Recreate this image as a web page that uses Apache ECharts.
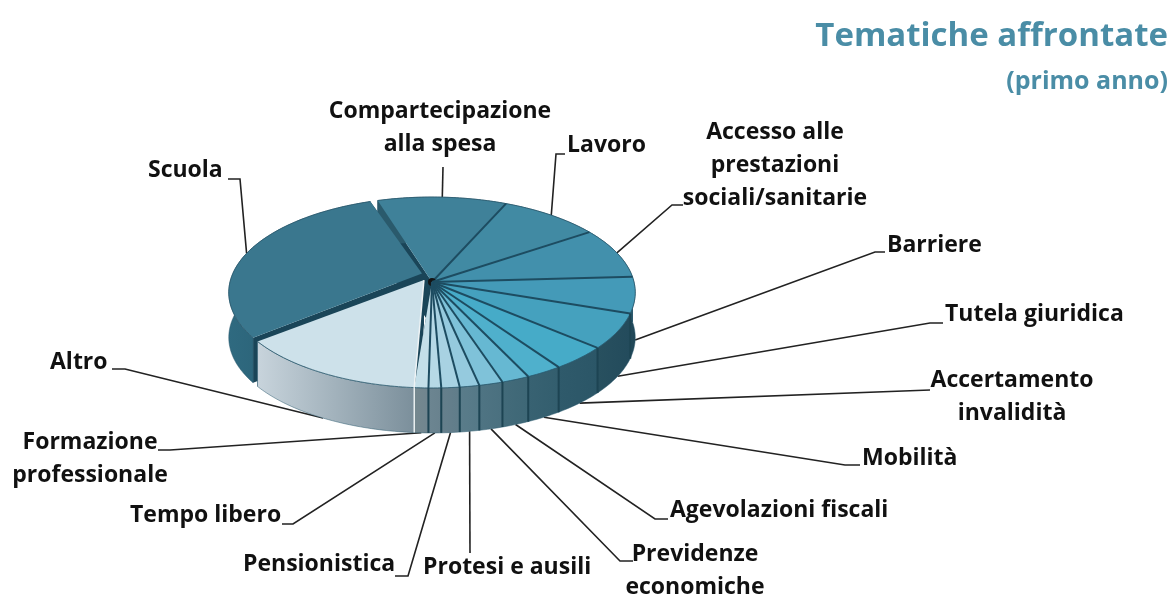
<!DOCTYPE html>
<html lang="it">
<head>
  <meta charset="UTF-8">
  <title>Tematiche affrontate</title>
  <style>
    html, body { margin: 0; padding: 0; background: #fff; }
    #chart { width: 1174px; height: 595px; }
  </style>
  <script src="https://cdn.jsdelivr.net/npm/echarts@6/dist/echarts.min.js"></script>
</head>
<body>
<div id="chart"></div>
<script>
  // slices, clockwise from the gap behind "Scuola"
  const categories = ["Compartecipazione\nalla spesa", "Lavoro", "Accesso alle\nprestazioni\nsociali/sanitarie", "Barriere",
    "Tutela giuridica", "Accertamento\ninvalidità", "Mobilità", "Agevolazioni fiscali", "Previdenze\neconomiche",
    "Protesi e ausili", "Pensionistica", "Tempo libero", "Formazione\nprofessionale", "Altro", "Scuola"];
  const shares = [11.4, 8.9, 8.6, 6.1, 6.0, 4.1, 2.6, 2.0, 1.7, 1.4, 1.3, 0.9, 1.0, 13.7, 30.2];

  // styles, same order as categories
  const topColors = ["#3f8199", "#418aa3", "#4290ac", "#449ab8", "#45a1be", "#46abc8", "#4fb0cc", "#66b8d2", "#7fc2d9",
    "#95cade", "#a8d2e2", "#b6d9e6", "#c4dfe9", "#cde1ea", "#3a778e"];
  const wallLeft = ["#2a5a6c", "#2a5a6c", "#2a5a6c", "#234b5c", "#28505f", "#2f5a6b", "#386272", "#436b7a", "#4f7483",
    "#5a7c8a", "#667f8c", "#6c8591", "#75888f", "#c8d4dc", "#2f6a80"];
  const wallRight = ["#2a5a6c", "#2a5a6c", "#2a5a6c", "#1f4555", "#234b5c", "#2b5667", "#335e6e", "#3e6776", "#4a707f",
    "#557987", "#607d8a", "#69828e", "#70858f", "#7b8f9b", "#235265"];

  // label placement: x, y, align
  const labelBoxes = [[440, 128, "center"], [567, 145, "left"], [775, 165, "center"], [887, 245, "left"],
    [945, 314, "left"], [1012, 397, "center"], [862, 458, "left"], [670, 510, "left"], [695, 571, "center"],
    [423, 567, "left"], [243, 564, "left"], [130, 515, "left"], [90, 459, "center"], [50, 362, "left"], [148, 170, "left"]];
  // leader line: text end, elbow
  const leaderEnds = [[443, 167, 443, 167], [565, 154, 556, 154], [683, 205, 672, 205], [885, 252, 875, 252],
    [943, 323, 930, 323], [930, 390, 930, 390], [860, 465, 845, 465], [668, 519, 655, 519], [633, 561, 620, 561],
    [470, 553, 470, 553], [395, 576, 408, 576], [282, 524, 293, 524], [158, 450, 170, 450], [112, 369, 125, 369], [228, 179, 240, 179]];

  const startAngle = -107.3;
  // inner corner of the pulled out slices, in disc units; Scuola also leaves a gap at both ends
  const apexShift = { 13: [-0.04, -0.02], 14: [-0.05, -0.09] };
  const rimGap = { 14: 2.4 };

  const pie = { cx: 432, cy: 282, rx: 202, ry: 94.3, k: 0.11, depth: 45 };

  function sliceAngles(i) {
    let total = shares.reduce((a, b) => a + b, 0);
    let before = shares.slice(0, i).reduce((a, b) => a + b, 0);
    let gap = rimGap[i] || 0;
    return [startAngle + before / total * 360 + gap, startAngle + (before + shares[i]) / total * 360 - gap];
  }
  // point of the tilted disc, perspective gives the nearer side more room
  function project(x, y, drop) {
    let d = 1 - pie.k * y;
    return [pie.cx + pie.rx * x / d, pie.cy + pie.ry * y / d + (drop || 0)];
  }
  function rim(deg, drop) {
    let t = deg * Math.PI / 180;
    return project(Math.cos(t), Math.sin(t), drop);
  }
  function apex(i, drop) {
    let o = apexShift[i] || [0, 0];
    return project(o[0], o[1], drop);
  }
  function arc(i, drop) {
    let a = sliceAngles(i), pts = [];
    for (let d = a[0]; d < a[1]; d += 1) pts.push(rim(d, drop));
    pts.push(rim(a[1], drop));
    return pts;
  }

  function renderRadialWalls(params, api) {
    let i = api.value(0), a = sliceAngles(i);
    let radial = (deg) => ({
      type: "polygon",
      shape: { points: [apex(i), rim(deg), rim(deg, pie.depth), apex(i, pie.depth)] },
      style: { fill: "#1a4558" }
    });
    return { type: "group", children: [radial(a[0]), radial(a[1])] };
  }

  function renderOuterWalls(params, api) {
    let i = api.value(0);
    return {
      type: "polygon",
      shape: { points: arc(i).concat(arc(i, pie.depth).reverse()) },
      style: {
        fill: new echarts.graphic.LinearGradient(0, 0, 1, 0, [
          { offset: 0, color: wallLeft[i] }, { offset: 1, color: wallRight[i] }]),
        stroke: "#2c5a6e", lineWidth: 0.5
      }
    };
  }

  function renderTops(params, api) {
    let i = api.value(0), pts = arc(i);
    return {
      type: "group",
      children: [{
        type: "polygon",
        shape: { points: [apex(i)].concat(pts) },
        style: { fill: topColors[i] }
      }, {
        type: "polyline",
        shape: { points: pts },
        style: { fill: null, stroke: "#2c5a6e", lineWidth: 0.8 }
      }]
    };
  }

  // dark seams between the slices, on the top face and down the wall
  function renderDividers(params, api) {
    let i = api.value(0), a = sliceAngles(i);
    if (i >= 13) return { type: "group", children: [] };
    let light = i === 12;
    let kids = [{
      type: "polyline",
      shape: { points: [apex(light ? 13 : i), rim(a[1])] },
      style: { fill: null, stroke: light ? "#eef3f5" : "#1d4c61", lineWidth: light ? 1.5 : 2 }
    }];
    if (Math.sin(a[1] * Math.PI / 180) > 0) {
      kids.push({
        type: "polyline",
        shape: { points: [rim(a[1]), rim(a[1], pie.depth)] },
        style: { fill: null, stroke: light ? "#f2f5f6" : "#1d4453", lineWidth: light ? 1.5 : 2 }
      });
    }
    if (i === 0) {
      kids.push({
        type: "circle",
        shape: { cx: pie.cx, cy: pie.cy, r: 4 },
        style: { fill: "#141414" }
      });
    }
    return { type: "group", children: kids };
  }

  function renderLeaders(params, api) {
    let i = api.value(0), a = sliceAngles(i);
    let mid = (a[0] + a[1]) / 2;
    let end = rim(mid, Math.sin(mid * Math.PI / 180) > 0 ? pie.depth : 0);
    let l = leaderEnds[i];
    return {
      type: "polyline",
      shape: { points: [[l[0], l[1]], [l[2], l[3]], end] },
      style: { fill: null, stroke: "#222", lineWidth: 1.6 }
    };
  }

  function renderLabels(params, api) {
    let i = api.value(0), b = labelBoxes[i];
    return {
      type: "text",
      style: {
        text: categories[i], x: b[0], y: b[1], align: b[2], verticalAlign: "middle",
        fontFamily: "Open Sans", fontWeight: 700, fontSize: 23, lineHeight: 33, fill: "#111"
      }
    };
  }

  const ids = categories.map((c, i) => [i, shares[i]]);
  const baseSeries = { type: "custom", coordinateSystem: "none", silent: true, animation: false, data: ids };

  let myChart = echarts.init(document.getElementById("chart"), null, { renderer: "canvas" });
  myChart.setOption({
    backgroundColor: "#fff",
    animation: false,
    title: [
      { text: "Tematiche affrontate", right: 1, top: 15, textStyle: { fontFamily: "Open Sans", fontWeight: 700, fontSize: 33, color: "#4a8da6" } },
      { text: "(primo anno)", right: 1, top: 64, textStyle: { fontFamily: "Open Sans", fontWeight: 700, fontSize: 25, color: "#4a8da6" } }
    ],
    series: [
      Object.assign({}, baseSeries, { renderItem: renderLeaders, z: 1 }),
      Object.assign({}, baseSeries, { renderItem: renderRadialWalls, z: 2 }),
      Object.assign({}, baseSeries, { renderItem: renderOuterWalls, z: 3, data: ids.slice().reverse() }),
      Object.assign({}, baseSeries, { renderItem: renderTops, z: 4 }),
      Object.assign({}, baseSeries, { renderItem: renderDividers, z: 5 }),
      Object.assign({}, baseSeries, { renderItem: renderLabels, z: 6 })
    ]
  });
</script>
</body>
</html>
